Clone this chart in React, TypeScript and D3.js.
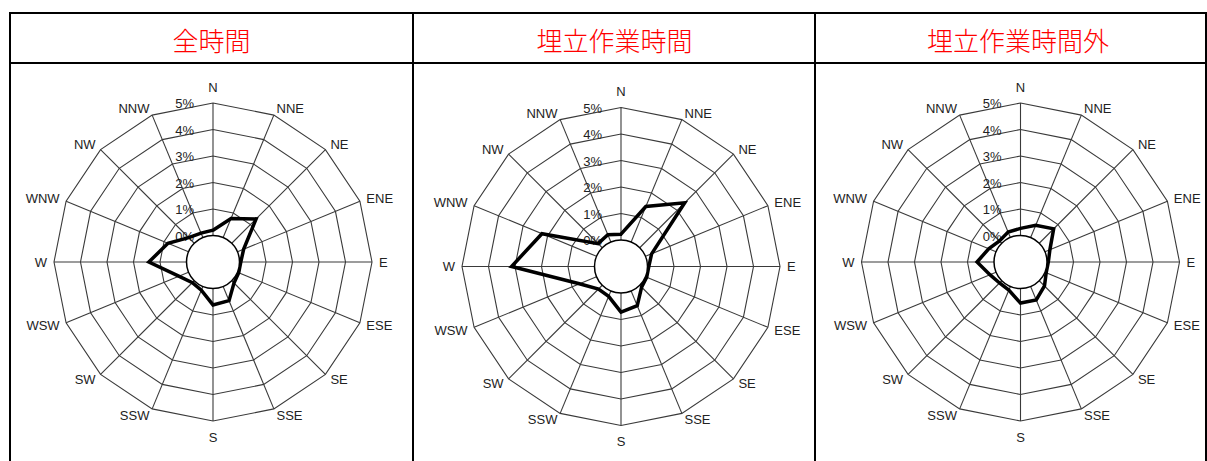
import React from "react";
import * as d3 from "d3";

const directions = ["N", "NNE", "NE", "ENE", "E", "ESE", "SE", "SSE", "S", "SSW", "SW", "WSW", "W", "WNW", "NW", "NNW"];
const tickValues = [0, 1, 2, 3, 4, 5];
const tickLabels = ["0%", "1%", "2%", "3%", "4%", "5%"];
const titles = ["全時間", "埋立作業時間", "埋立作業時間外"];

const allHours = [0.2, 0.78, 1.3, 0.25, 0.05, 0.05, 0.12, 0.58, 0.62, 0.15, 0.1, 0.4, 1.42, 0.84, 0.3, 0.18];
const workHours = [0.22, 1.45, 2.4, 0.25, 0.05, 0.05, 0.1, 0.6, 0.72, 0.22, 0.2, 0.7, 3.13, 2.23, 0.22, 0.3];
const offHours = [0.27, 0.5, 0.77, 0.2, 0.05, 0.05, 0.28, 0.55, 0.55, 0.15, 0.12, 0.25, 0.64, 0.3, 0.12, 0.22];
const seriesList = [allHours, workHours, offHours];

const W = 1207;
const H = 461;
const centers = [
  { cx: 213, cy: 262, tx: 211.5 },
  { cx: 621, cy: 266.5, tx: 614.5 },
  { cx: 1020.5, cy: 262, tx: 1018 },
];
const colLines = [10, 413, 815, 1206];

const rScale = d3.scaleLinear().domain([0, 5]).range([26.5, 159]);
const angle = (i: number) => (i * 2 * Math.PI) / directions.length;

const ringLine = d3
  .lineRadial<number>()
  .angle((_, i) => angle(i))
  .radius((d) => rScale(d))
  .curve(d3.curveLinearClosed);

function Rose({ cx, cy, values }: { cx: number; cy: number; values: number[] }) {
  const gridColor = "#3a3a3a";
  return (
    <g transform={`translate(${cx},${cy})`}>
      {tickValues.slice(1).map((t) => (
        <path key={t} d={ringLine(directions.map(() => t)) || ""} fill="none" stroke={gridColor} strokeWidth={1.1} />
      ))}
      {directions.map((d, i) => {
        const a = angle(i);
        const r1 = rScale(0);
        const r2 = rScale(5);
        return (
          <line
            key={d}
            x1={r1 * Math.sin(a)}
            y1={-r1 * Math.cos(a)}
            x2={r2 * Math.sin(a)}
            y2={-r2 * Math.cos(a)}
            stroke={gridColor}
            strokeWidth={1.1}
          />
        );
      })}
      {tickValues.map((t, i) => (
        <text
          key={t}
          x={-19}
          y={-rScale(t) + 5}
          textAnchor="end"
          fontFamily="'Liberation Sans', Arial, sans-serif"
          fontSize={13}
          fill="#222"
        >
          {tickLabels[i]}
        </text>
      ))}
      <path d={ringLine(values) || ""} fill="none" stroke="#000" strokeWidth={3.5} strokeLinejoin="miter" />
      <circle r={rScale(0)} fill="#fff" stroke="#000" strokeWidth={1.5} />
      {directions.map((d, i) => {
        const a = angle(i);
        const s = Math.sin(a);
        const vertical = Math.abs(s) < 0.1;
        const r = vertical ? 175 : 166;
        return (
          <text
            key={d}
            x={r * s}
            y={-r * Math.cos(a)}
            textAnchor={vertical ? "middle" : s > 0 ? "start" : "end"}
            dominantBaseline="central"
            fontFamily="'Liberation Sans', Arial, sans-serif"
            fontSize={13}
            fill="#222"
          >
            {d}
          </text>
        );
      })}
    </g>
  );
}

export default function App() {
  return (
    <svg width={W} height={H} style={{ position: "absolute", left: 0, top: 0, background: "#fff" }}>
      <rect x={0} y={0} width={W} height={H} fill="#fff" />
      <line x1={colLines[0] - 1} x2={colLines[3] + 1} y1={13} y2={13} stroke="#000" strokeWidth={2} />
      <line x1={colLines[0] - 1} x2={colLines[3] + 1} y1={63} y2={63} stroke="#000" strokeWidth={2} />
      {colLines.map((x) => (
        <line key={x} x1={x} x2={x} y1={12} y2={H} stroke="#000" strokeWidth={2} />
      ))}
      {titles.map((t, i) => (
        <text
          key={t}
          x={centers[i].tx}
          y={39}
          textAnchor="middle"
          dominantBaseline="central"
          fontFamily="'Noto Sans CJK JP', sans-serif"
          fontWeight={300}
          fontSize={26}
          fill="#ff0000"
        >
          {t}
        </text>
      ))}
      {seriesList.map((s, i) => (
        <Rose key={i} cx={centers[i].cx} cy={centers[i].cy} values={s} />
      ))}
    </svg>
  );
}
